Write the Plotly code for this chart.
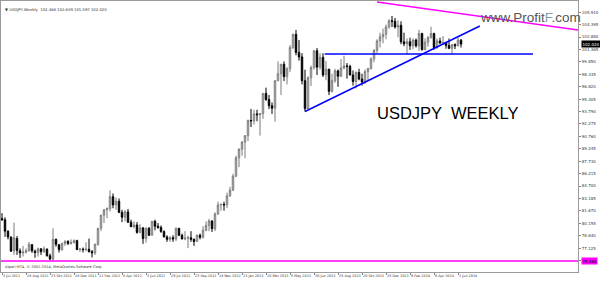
import plotly.graph_objects as go
import pandas as pd

# ---- data (weekly USDJPY, week start dates from 3 Jul 2011) ----
first_week = "2011-07-03"
opens = [80.75,80.60,79.20,78.45,76.80,78.30,76.80,76.55,76.65,76.80,77.55,76.75,76.60,77.05,76.70,77.00,76.20,75.80,78.20,77.55,
         76.95,77.70,77.95,77.70,77.80,78.05,76.95,77.00,76.95,77.00,76.70,76.55,77.55,79.55,81.15,81.80,81.95,83.40,82.40,82.85,
         81.50,80.90,81.55,80.30,79.75,79.95,79.05,79.60,78.30,79.55,78.70,80.40,79.80,79.65,79.15,78.50,78.20,78.40,78.25,79.55,
         78.70,78.25,78.35,78.40,78.20,77.95,78.70,78.45,79.30,79.90,80.45,79.50,81.30,82.40,82.45,82.40,83.50,84.20,85.90,88.15,
         89.20,90.05,90.85,92.70,92.65,93.50,93.40,93.55,96.00,95.25,94.50,94.20,97.55,98.40,99.55,98.05,99.00,101.60,103.20,101.00,
         100.45,97.55,94.15,97.90,99.15,101.20,99.20,100.40,98.25,98.95,96.25,97.55,98.75,98.10,99.10,99.35,99.30,98.25,97.45,98.55,
         97.75,97.40,98.65,99.05,100.20,101.25,102.40,102.90,103.20,104.10,104.85,104.80,104.10,104.30,102.30,102.05,102.30,101.80,102.50,101.80,
         103.30,101.35,102.25,102.80,103.30,101.60,102.40,102.15,102.20,101.85,101.50,101.95,101.80,102.488]
highs = [81.40,80.90,79.30,78.60,80.24,78.60,77.10,77.40,77.10,77.90,77.60,76.95,77.20,77.10,77.35,77.10,76.45,79.55,78.30,77.60,
         77.80,78.10,78.10,78.20,78.20,78.15,77.15,77.20,77.85,78.30,76.90,77.70,79.60,81.20,81.90,82.10,84.18,83.80,83.30,83.20,
         81.80,81.80,81.90,80.60,80.40,80.30,80.05,79.70,79.65,79.70,80.45,80.60,80.20,79.90,79.30,78.70,78.60,78.70,79.65,79.60,
         78.90,79.20,78.65,79.20,78.30,78.80,78.90,79.80,80.40,80.70,80.50,81.50,82.80,82.60,82.80,83.90,84.60,86.20,88.40,89.30,
         90.20,90.90,92.80,94.10,94.00,94.00,93.60,96.05,96.70,95.80,94.90,97.60,99.90,99.60,99.90,99.20,101.90,103.30,103.74,102.50,
         100.90,98.90,98.10,99.40,101.25,101.53,100.90,100.90,99.95,99.00,98.40,99.00,98.90,100.20,100.60,99.70,99.50,98.80,98.70,99.00,
         98.40,98.90,99.10,100.40,101.40,102.60,103.40,103.90,104.40,105.05,105.44,105.20,104.90,104.80,103.40,102.70,102.80,102.70,102.70,103.76,
         103.40,102.70,103.00,104.13,103.40,102.70,102.80,103.00,102.30,102.70,102.00,102.10,102.80,102.639]
lows = [80.45,78.50,78.20,76.70,76.30,76.30,75.94,76.10,76.45,76.70,76.55,75.95,76.10,76.30,76.55,76.10,75.65,75.56,77.30,76.60,
        76.80,77.40,77.50,77.55,77.70,76.90,76.65,76.60,76.75,76.60,76.00,76.30,77.45,79.20,80.20,80.80,81.60,82.00,81.80,81.40,
        80.30,80.40,80.20,79.70,79.55,78.90,78.95,77.65,77.80,78.60,78.70,79.30,79.50,79.00,78.45,77.90,77.90,77.90,78.00,78.60,
        78.20,78.10,77.13,77.90,77.40,77.90,78.20,78.30,79.20,79.20,79.10,79.20,81.20,81.70,81.70,82.00,83.40,84.10,85.80,87.00,
        88.40,88.10,90.20,91.90,92.20,92.60,90.85,92.90,95.10,94.10,93.50,92.55,97.50,95.80,97.50,97.10,98.60,101.40,100.65,100.00,
        97.10,93.79,94.10,96.90,98.90,98.25,98.90,98.00,97.60,95.80,96.10,97.30,96.80,98.00,98.95,97.80,98.20,96.95,96.60,97.60,
        96.95,97.15,97.60,98.90,99.80,100.90,101.60,102.10,102.60,103.90,104.10,103.90,102.85,102.00,101.75,100.75,101.30,101.40,101.60,101.20,
        101.20,101.25,101.70,102.70,101.32,101.40,102.00,101.90,101.45,101.40,100.82,101.40,101.75,101.597]
closes = [80.60,79.20,78.50,76.75,78.40,76.85,76.55,76.65,76.80,77.60,76.80,76.60,77.05,76.70,77.05,76.20,75.80,78.20,77.60,76.95,
          77.70,77.95,77.70,77.80,78.05,76.95,77.00,76.95,77.00,76.70,76.55,77.60,79.55,81.15,81.80,81.95,83.40,82.40,82.85,81.50,
          80.90,81.55,80.30,79.75,79.95,79.05,79.60,78.30,79.55,78.70,80.40,79.80,79.65,79.15,78.50,78.20,78.40,78.25,79.55,78.70,
          78.25,78.35,78.40,78.20,77.95,78.70,78.45,79.30,79.90,80.45,79.50,81.30,82.40,82.45,82.40,83.50,84.20,85.90,88.15,89.20,
          90.05,90.85,92.70,92.65,93.50,93.40,93.55,96.00,95.25,94.50,94.20,97.55,98.40,99.55,98.05,99.00,101.60,103.20,101.00,100.45,
          97.55,94.15,97.90,99.15,101.20,99.20,100.40,98.25,98.95,96.25,97.55,98.75,98.10,99.10,99.35,99.30,98.25,97.45,98.55,97.75,
          97.40,98.65,99.05,100.20,101.25,102.40,102.90,103.20,104.10,104.85,104.80,104.10,104.30,102.30,102.05,102.30,101.80,102.50,101.80,103.30,
          101.35,102.25,102.80,103.30,101.60,102.40,102.15,102.20,101.85,101.50,101.95,101.80,102.50,102.020]

tick_dates = ["2011-07-03","2011-08-28","2011-10-23","2011-12-18","2012-02-12","2012-04-08","2012-06-03",
              "2012-07-29","2012-09-23","2012-11-18","2013-01-13","2013-03-10","2013-05-05","2013-06-30",
              "2013-08-25","2013-10-20","2013-12-15","2014-02-09","2014-04-06","2014-06-01"]
tick_text = ["3 Jul 2011","28 Aug 2011","23 Oct 2011","18 Dec 2011","12 Feb 2012","8 Apr 2012","3 Jun 2012",
             "29 Jul 2012","23 Sep 2012","18 Nov 2012","13 Jan 2013","10 Mar 2013","5 May 2013","30 Jun 2013",
             "25 Aug 2013","20 Oct 2013","15 Dec 2013","9 Feb 2014","6 Apr 2014","1 Jun 2014"]
price_ticks = [75.610,77.125,78.640,80.155,81.670,83.185,84.700,86.215,87.730,89.245,90.760,
               92.275,93.790,95.305,96.820,98.335,99.850,101.365,102.880,104.395,105.910]

# trendlines (date, price)
resist_line = [("2013-11-24", 107.15), ("2015-03-08", 103.73)]
rising_line = [("2013-06-09", 93.79), ("2014-07-22", 104.22)]
support_line = [("2013-07-25", 100.81), ("2014-11-23", 100.81)]
floor_level = 75.56
last_price = 102.020

dates = pd.date_range(first_week, periods=len(closes), freq="7D")

fig = go.Figure()
fig.add_trace(go.Candlestick(
    x=dates, open=opens, high=highs, low=lows, close=closes,
    increasing=dict(line=dict(color="#7a7a7a", width=1), fillcolor="#e8e8e8"),
    decreasing=dict(line=dict(color="#000000", width=1), fillcolor="#000000"),
    whiskerwidth=0, showlegend=False, hoverinfo="skip"))

for (p0, p1), col in [((resist_line[0], resist_line[1]), "#ff00ff"),
                      ((rising_line[0], rising_line[1]), "#0000ff"),
                      ((support_line[0], support_line[1]), "#0000ff")]:
    fig.add_shape(type="line", xref="x", yref="y", x0=p0[0], y0=p0[1], x1=p1[0], y1=p1[1],
                  line=dict(color=col, width=1.5))
fig.add_shape(type="line", xref="paper", yref="y", x0=0, x1=1, y0=floor_level, y1=floor_level,
              line=dict(color="#ff00ff", width=1.5))

tick_font = dict(family="DejaVu Sans", size=4, color="#333333")
fig.update_layout(
    width=600, height=281, margin=dict(l=1, r=22, t=1, b=9, autoexpand=False),
    paper_bgcolor="white", plot_bgcolor="white",
    xaxis=dict(type="date", range=["2011-06-30 16:00", "2015-03-08"], rangeslider=dict(visible=False),
               tickvals=tick_dates, ticktext=tick_text, ticks="outside", ticklen=2, tickcolor="#888888",
               ticklabelposition="outside right", tickfont=dict(family="DejaVu Sans", size=3.4, color="#333333"),
               tickangle=0, automargin=False,
               showgrid=False, zeroline=False, showline=True, linecolor="#9a9a9a", linewidth=1, mirror=True),
    yaxis=dict(range=[74.22, 107.27], side="right", tickvals=price_ticks, automargin=False,
               ticktext=[f"{v:.3f}" for v in price_ticks], ticks="outside", ticklen=2, tickcolor="#888888",
               tickfont=tick_font, showgrid=False, zeroline=False, showline=True,
               linecolor="#9a9a9a", linewidth=1, mirror=True),
    font=dict(family="DejaVu Sans"),
)

# price markers on axis
fig.add_annotation(xref="paper", yref="y", x=1.0, y=last_price, xanchor="left", yanchor="middle",
                   text=f"{last_price:.3f}", showarrow=False, bgcolor="#000000",
                   font=dict(family="DejaVu Sans", size=4, color="white"), borderpad=0.5, xshift=3)
fig.add_annotation(xref="paper", yref="y", x=1.0, y=floor_level, xanchor="left", yanchor="middle",
                   text=f"{floor_level:.3f}", showarrow=False, bgcolor="#ff00ff",
                   font=dict(family="DejaVu Sans", size=4, color="#000000"), borderpad=0.5, xshift=3)

# title & texts
fig.add_annotation(xref="paper", yref="paper", x=0.003, y=0.985, xanchor="left", yanchor="top",
                   text="▼ USDJPY,Weekly  102.488 102.639 101.597 102.020", showarrow=False,
                   font=dict(family="DejaVu Sans", size=3.8, color="#333333"))
fig.add_annotation(xref="paper", yref="paper", x=0.003, y=0.002, xanchor="left", yanchor="bottom",
                   text="Alpari MT4, © 2001-2014, MetaQuotes Software Corp.", showarrow=False,
                   font=dict(family="DejaVu Sans", size=3.6, color="#333333"))
fig.add_annotation(xref="paper", yref="paper", x=0.649, y=0.585, xanchor="left", yanchor="middle",
                   text="USDJPY  WEEKLY", showarrow=False,
                   font=dict(family="Liberation Sans", size=16.5, color="#000000"))
fig.add_annotation(xref="paper", yref="paper", x=0.826, y=0.94, xanchor="left", yanchor="middle",
                   text="www.Profit<span style='color:#7fa3ad'>F</span>.com", showarrow=False,
                   font=dict(family="Liberation Sans", size=13.5, color="#555555"))

fig.write_html("out.html")
